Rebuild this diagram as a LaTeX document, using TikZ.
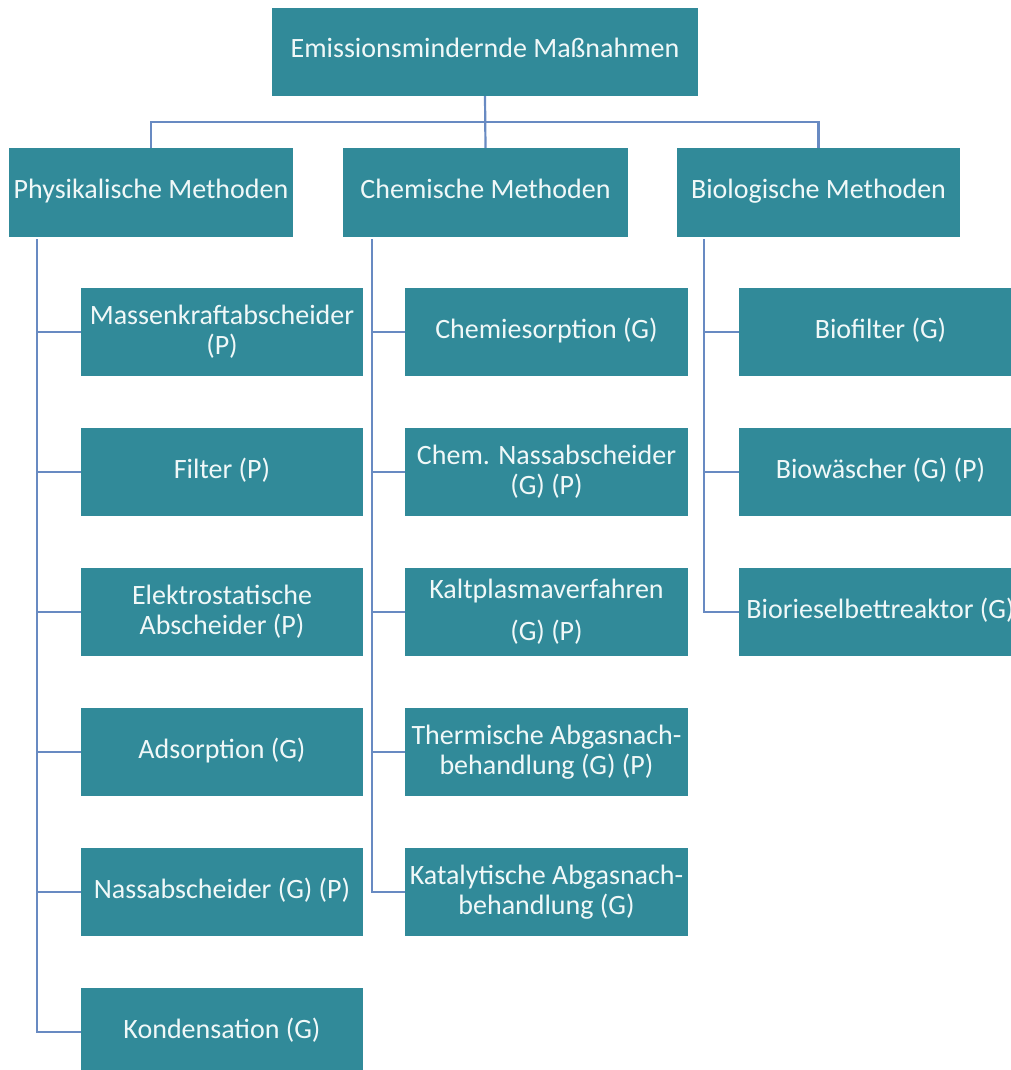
\documentclass[tikz,border=0pt]{standalone}
\usepackage{fontspec}
\setmainfont{Carlito}
\definecolor{boxteal}{RGB}{49,138,153}
\definecolor{linkblue}{RGB}{104,138,194}
\definecolor{boxtext}{RGB}{240,248,248}
\tikzset{
  mbox/.style={fill=boxteal,text=boxtext,inner sep=0pt,align=center,
    minimum width=282pt,minimum height=88pt,
    font=\fontsize{28}{30}\selectfont},
  link/.style={linkblue,line width=2.2pt}
}
\begin{document}
\begin{tikzpicture}[x=1pt,y=-1pt]
\useasboundingbox (0,0) rectangle (1011,1070);
\clip (0,0) rectangle (1011,1070);
\node[mbox,minimum width=426pt] (top) at (485,52) {Emissionsmindernde Maßnahmen\strut};

\node[mbox,minimum width=284pt,minimum height=89pt] (phys) at (151,192.5) {Physikalische Methoden\strut};
\node[mbox,minimum width=285pt,minimum height=89pt] (chem) at (485.5,192.5) {Chemische Methoden\strut};
\node[mbox,minimum width=283pt,minimum height=89pt] (bio) at (818.5,192.5) {Biologische Methoden\strut};
\coordinate (bar) at (485,122);
\draw[link] (top.south) -- (chem.north);
\draw[link] (phys.north) -- (phys.north |- bar) -- (bio.north |- bar) -- (bio.north);

% physikalisch
\node[mbox] (p1) at (222,332) {Massenkraftabscheider\\(P)};
\node[mbox] (p2) at (222,472) {Filter (P)\strut};
\node[mbox] (p3) at (222,612) {Elektrostatische\\Abscheider (P)};
\node[mbox] (p4) at (222,752) {Adsorption (G)\strut};
\node[mbox] (p5) at (222,892) {Nassabscheider (G) (P)\strut};
\node[mbox] (p6) at (222,1032) {Kondensation (G)\strut};
\coordinate (ptrunk) at (37,239);
\draw[link] (ptrunk) |- (p6.west);
\draw[link] (p1.west -| ptrunk) -- (p1.west);
\draw[link] (p2.west -| ptrunk) -- (p2.west);
\draw[link] (p3.west -| ptrunk) -- (p3.west);
\draw[link] (p4.west -| ptrunk) -- (p4.west);
\draw[link] (p5.west -| ptrunk) -- (p5.west);

% chemisch
\node[mbox,minimum width=283pt] (c1) at (546.5,332) {Chemiesorption (G)\strut};
\node[mbox,minimum width=283pt] (c2) at (546.5,472) {Chem. Nassabscheider\\(G) (P)};
\node[mbox,minimum width=283pt] (c3) at (546.5,612) {Kaltplasmaverfahren\\[12pt](G) (P)};
\node[mbox,minimum width=283pt] (c4) at (546.5,752) {Thermische Abgasnach-\\behandlung (G) (P)};
\node[mbox,minimum width=283pt] (c5) at (546.5,892) {Katalytische Abgasnach-\\behandlung (G)};
\coordinate (ctrunk) at (372,239);
\draw[link] (ctrunk) |- (c5.west);
\draw[link] (c1.west -| ctrunk) -- (c1.west);
\draw[link] (c2.west -| ctrunk) -- (c2.west);
\draw[link] (c3.west -| ctrunk) -- (c3.west);
\draw[link] (c4.west -| ctrunk) -- (c4.west);

% biologisch
\node[mbox,minimum width=283pt] (b1) at (880.5,332) {Biofilter (G)\strut};
\node[mbox,minimum width=283pt] (b2) at (880.5,472) {Biowäscher (G) (P)\strut};
\node[mbox,minimum width=283pt] (b3) at (880.5,612) {Biorieselbettreaktor (G)\strut};
\coordinate (btrunk) at (704,239);
\draw[link] (btrunk) |- (b3.west);
\draw[link] (b1.west -| btrunk) -- (b1.west);
\draw[link] (b2.west -| btrunk) -- (b2.west);
\end{tikzpicture}
\end{document}
